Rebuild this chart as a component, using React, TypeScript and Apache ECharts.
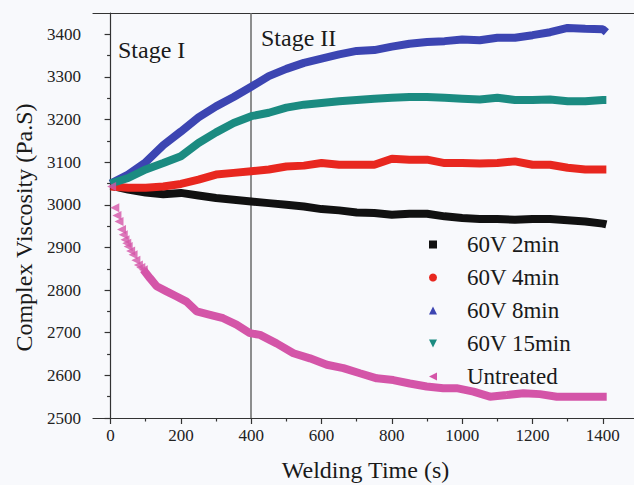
import React, { useEffect, useRef } from "react";
import * as echarts from "echarts";

const seriesNames = ["60V 2min", "60V 4min", "60V 8min", "60V 15min", "Untreated"];

const times = [0, 50, 100, 150, 200, 250, 300, 350, 400, 450, 500, 550, 600, 650, 700, 750, 800, 850, 900, 950, 1000, 1050, 1100, 1150, 1200, 1250, 1300, 1350, 1400, 1410];

const v2min = [3045, 3036, 3029, 3025, 3028, 3022, 3016, 3012, 3008, 3004, 3000, 2996, 2990, 2987, 2982, 2981, 2977, 2979, 2979, 2973, 2969, 2967, 2967, 2965, 2967, 2967, 2964, 2961, 2956, 2954];
const v4min = [3043, 3040, 3040, 3043, 3049, 3059, 3071, 3075, 3079, 3083, 3090, 3092, 3098, 3094, 3094, 3094, 3108, 3106, 3106, 3098, 3098, 3097, 3098, 3102, 3094, 3094, 3087, 3083, 3083, 3083];
const v8min = [3050, 3071, 3100, 3140, 3172, 3205, 3231, 3253, 3277, 3302, 3319, 3333, 3343, 3353, 3361, 3363, 3371, 3378, 3382, 3384, 3388, 3386, 3392, 3392, 3398, 3405, 3415, 3413, 3412, 3405];
const v15min = [3050, 3063, 3083, 3098, 3114, 3145, 3170, 3192, 3208, 3216, 3228, 3235, 3239, 3243, 3246, 3249, 3251, 3253, 3253, 3251, 3249, 3247, 3251, 3246, 3246, 3247, 3243, 3243, 3246, 3246];

const untreatedTimes = [93, 112, 131, 159, 188, 216, 245, 283, 320, 358, 396, 425, 472, 520, 567, 615, 662, 709, 757, 804, 851, 899, 946, 984, 1032, 1079, 1127, 1174, 1221, 1269, 1316, 1363, 1411];
const untreatedValues = [2848, 2828, 2809, 2797, 2785, 2773, 2750, 2742, 2734, 2719, 2699, 2695, 2675, 2652, 2640, 2625, 2617, 2605, 2593, 2589, 2581, 2574, 2570, 2570, 2562, 2550, 2554, 2558, 2556, 2550, 2550, 2550, 2550];
const untreatedEarlyTimes = [3, 12, 18, 24, 31, 36, 41, 46, 50, 57, 64, 72, 79, 86, 93];
const untreatedEarlyValues = [3043, 2993, 2975, 2961, 2942, 2930, 2918, 2910, 2902, 2892, 2883, 2870, 2859, 2853, 2848];

const xMajorTicks = [0, 200, 400, 600, 800, 1000, 1200, 1400];
const xMinorTicks = [100, 300, 500, 700, 900, 1100, 1300];
const yMajorTicks = [2500, 2600, 2700, 2800, 2900, 3000, 3100, 3200, 3300, 3400];
const yMinorTicks = [2550, 2650, 2750, 2850, 2950, 3050, 3150, 3250, 3350];

const stageBoundary = 400;

const colors = ["#111111", "#e8271f", "#3c45b2", "#1b8b81", "#d455a8"];
const symbols = [
  "rect",
  "circle",
  "triangle",
  "path://M0,0L10,0L5,10Z",
  "path://M0,5L10,0L10,10Z",
];

const FONT = "'Liberation Serif', 'Times New Roman', Times, serif";

function zip(xs: number[], ys: number[]) {
  return xs.map((x, i) => [x, ys[i]]);
}

export default function App() {
  const ref = useRef<HTMLDivElement>(null);
  useEffect(() => {
    if (!ref.current) return;
    const chart = echarts.init(ref.current, null, { renderer: "svg" });
    const values = [v2min, v4min, v8min, v15min];
    const lineSeries: any[] = values.map((vals, i) => ({
      name: seriesNames[i],
      type: "line",
      xAxisIndex: 0,
      yAxisIndex: 0,
      data: zip(times, vals),
      showSymbol: false,
      symbol: symbols[i],
      symbolSize: 8,
      lineStyle: { width: 8, color: colors[i] },
      itemStyle: { color: colors[i] },
      z: 3,
    }));
    lineSeries[0].markLine = {
      silent: true,
      symbol: "none",
      label: { show: false },
      lineStyle: { color: "#6a6a6a", width: 1.5, type: "solid" },
      data: [{ xAxis: stageBoundary }],
      z: 1,
    };
    lineSeries.push({
      name: seriesNames[4],
      type: "line",
      xAxisIndex: 0,
      yAxisIndex: 0,
      data: zip(untreatedTimes, untreatedValues),
      showSymbol: false,
      symbol: symbols[4],
      symbolSize: 8,
      lineStyle: { width: 8, color: colors[4] },
      itemStyle: { color: colors[4] },
      z: 3,
    });
    lineSeries.push({
      name: seriesNames[4],
      type: "scatter",
      xAxisIndex: 0,
      yAxisIndex: 0,
      data: zip(untreatedEarlyTimes, untreatedEarlyValues),
      symbol: symbols[4],
      symbolSize: 9,
      itemStyle: { color: colors[4] },
      z: 3,
    });

    const plain = (v: number) => String(v);

    chart.setOption({
      animation: false,
      backgroundColor: "#f8f9fc",
      grid: {
        left: 93,
        top: 13,
        width: 545,
        height: 405,
        show: false,
        outerBoundsMode: "none",
        containLabel: false,
      },
      legend: {
        data: seriesNames,
        orient: "vertical",
        left: 404,
        top: 233,
        padding: 0,
        itemWidth: 58,
        itemHeight: 10,
        itemGap: 10,
        lineStyle: { width: 0, opacity: 0 },
        textStyle: { fontFamily: FONT, fontSize: 23, color: "#1a1a1a", lineHeight: 20 },
      },
      xAxis: [
        {
          type: "value",
          min: -50,
          max: 1500,
          position: "bottom",
          name: "Welding Time (s)",
          nameLocation: "middle",
          nameGap: 40,
          nameTextStyle: { fontFamily: FONT, fontSize: 24, color: "#1a1a1a" },
          axisLine: { show: true, lineStyle: { color: "#333", width: 1.2 } },
          axisTick: { show: true, length: 6, customValues: xMajorTicks, lineStyle: { color: "#333", width: 1.2 } },
          axisLabel: { customValues: xMajorTicks, formatter: plain, fontFamily: FONT, fontSize: 17, color: "#222", margin: 9 },
          splitLine: { show: false },
        },
        {
          type: "value",
          min: -50,
          max: 1500,
          position: "bottom",
          axisLine: { show: false },
          axisTick: { show: true, length: 3.5, customValues: xMinorTicks, lineStyle: { color: "#333", width: 1.2 } },
          axisLabel: { show: false },
          splitLine: { show: false },
        },
        {
          type: "value",
          min: -50,
          max: 1500,
          position: "top",
          axisLine: { show: true, lineStyle: { color: "#333", width: 1.2 } },
          axisTick: { show: false },
          axisLabel: { show: false },
          splitLine: { show: false },
        },
      ],
      yAxis: [
        {
          type: "value",
          min: 2500,
          max: 3450,
          position: "left",
          name: "Complex Viscosity (Pa.S)",
          nameLocation: "middle",
          nameRotate: 90,
          nameGap: 57,
          nameTextStyle: { fontFamily: FONT, fontSize: 24, color: "#1a1a1a", padding: [0, 24, 0, 0] },
          axisLine: { show: true, lineStyle: { color: "#333", width: 1.2 } },
          axisTick: { show: true, length: 6, customValues: yMajorTicks, lineStyle: { color: "#333", width: 1.2 } },
          axisLabel: { customValues: yMajorTicks, formatter: plain, fontFamily: FONT, fontSize: 17, color: "#222", margin: 12 },
          splitLine: { show: false },
        },
        {
          type: "value",
          min: 2500,
          max: 3450,
          position: "left",
          axisLine: { show: false },
          axisTick: { show: true, length: 3.5, customValues: yMinorTicks, lineStyle: { color: "#333", width: 1.2 } },
          axisLabel: { show: false },
          splitLine: { show: false },
        },
      ],
      graphic: [
        {
          type: "text",
          left: 118,
          top: 38,
          style: { text: "Stage I", fontFamily: FONT, fontSize: 24, fill: "#1a1a1a" },
        },
        {
          type: "text",
          left: 261,
          top: 26,
          style: { text: "Stage II", fontFamily: FONT, fontSize: 24, fill: "#1a1a1a" },
        },
      ],
      series: lineSeries,
    });
    return () => chart.dispose();
  }, []);
  return (
    <div
      ref={ref}
      style={{ position: "absolute", left: 0, top: 0, width: 634, height: 485 }}
    />
  );
}
